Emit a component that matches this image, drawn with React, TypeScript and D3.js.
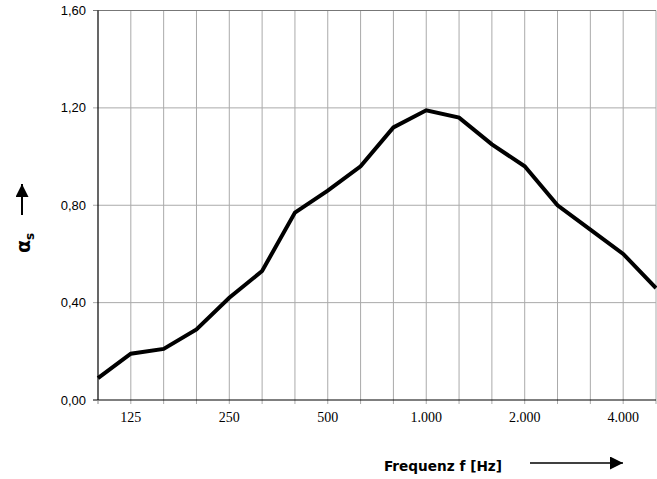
import * as d3 from "d3";
import { useEffect, useRef } from "react";

// Terzband-Mittenfrequenzen [Hz]
const frequencies = [100, 125, 160, 200, 250, 315, 400, 500, 630, 800, 1000, 1250, 1600, 2000, 2500, 3150, 4000, 5000];
// Schallabsorptionsgrad alpha_s
const alphaValues = [0.09, 0.19, 0.21, 0.29, 0.42, 0.53, 0.77, 0.86, 0.96, 1.12, 1.19, 1.16, 1.05, 0.96, 0.8, 0.7, 0.6, 0.46];
const labeledFrequencies = [125, 250, 500, 1000, 2000, 4000];
const yTicks = [0, 0.4, 0.8, 1.2, 1.6];

const W = 657;
const H = 479;

export default function App() {
    const svgRef = useRef<SVGSVGElement | null>(null);

    useEffect(() => {
        const svg = d3.select(svgRef.current);
        svg.selectAll("*").remove();

        const left = 98;
        const right = 656;
        const top = 10.5;
        const bottom = 400;

        const x = d3
            .scalePoint<number>()
            .domain(frequencies)
            .range([left, right]);

        const y = d3.scaleLinear().domain([0, 1.6]).range([bottom, top]);

        const defs = svg.append("defs");
        defs.append("marker")
            .attr("id", "arrow")
            .attr("viewBox", "0 0 10 10")
            .attr("refX", 10)
            .attr("refY", 5)
            .attr("markerWidth", 14)
            .attr("markerHeight", 13)
            .attr("markerUnits", "userSpaceOnUse")
            .attr("orient", "auto")
            .append("path")
            .attr("d", "M0,0 L10,5 L0,10 Z")
            .attr("fill", "#000");

        // Grid vertikal
        svg.append("g")
            .selectAll("line")
            .data(frequencies.slice(1))
            .enter()
            .append("line")
            .attr("x1", (d) => x(d)!)
            .attr("x2", (d) => x(d)!)
            .attr("y1", top)
            .attr("y2", bottom + 4)
            .attr("stroke", "#aaa")
            .attr("stroke-width", 1);

        // Grid horizontal
        svg.append("g")
            .selectAll("line")
            .data(yTicks.slice(1))
            .enter()
            .append("line")
            .attr("x1", left - 5)
            .attr("x2", right)
            .attr("y1", (d) => y(d))
            .attr("y2", (d) => y(d))
            .attr("stroke", (d) => (d === 1.6 ? "#777" : "#aaa"))
            .attr("stroke-width", 1);

        // Achsen
        svg.append("line")
            .attr("x1", left).attr("x2", left)
            .attr("y1", top).attr("y2", bottom)
            .attr("stroke", "#000").attr("stroke-width", 1.2);
        svg.append("line")
            .attr("x1", left - 5).attr("x2", right)
            .attr("y1", bottom).attr("y2", bottom)
            .attr("stroke", "#000").attr("stroke-width", 1.2);
        svg.append("line")
            .attr("x1", left).attr("x2", left)
            .attr("y1", bottom).attr("y2", bottom + 4)
            .attr("stroke", "#888");

        // Y Beschriftung
        svg.append("g")
            .selectAll("text")
            .data(yTicks)
            .enter()
            .append("text")
            .attr("x", 86)
            .attr("y", (d) => y(d) + 4.5)
            .attr("text-anchor", "end")
            .attr("font-family", "'Liberation Sans', Arial, sans-serif")
            .attr("font-size", 13)
            .attr("fill", "#000")
            .text((d) => d.toFixed(2).replace(".", ","));

        // X Beschriftung
        svg.append("g")
            .selectAll("text")
            .data(labeledFrequencies)
            .enter()
            .append("text")
            .attr("x", (d) => x(d)!)
            .attr("y", 422)
            .attr("text-anchor", "middle")
            .attr("font-family", "'Liberation Serif', 'Times New Roman', serif")
            .attr("font-size", 14)
            .attr("fill", "#000")
            .text((d) => d3.format(",")(d).replace(",", "."));

        // Kurve
        const line = d3
            .line<number>()
            .x((_, i) => x(frequencies[i])!)
            .y((d) => y(d));

        svg.append("path")
            .datum(alphaValues)
            .attr("d", line)
            .attr("fill", "none")
            .attr("stroke", "#000")
            .attr("stroke-width", 4)
            .attr("stroke-linejoin", "miter");

        // Y Titel
        const yt = svg.append("text")
            .attr("transform", "translate(30,253) rotate(-90)")
            .attr("font-family", "'DejaVu Sans', sans-serif")
            .attr("font-weight", "bold")
            .attr("font-size", 19)
            .attr("fill", "#000");
        yt.append("tspan").text("α");
        yt.append("tspan").attr("font-size", 12).attr("dy", 4).text("s");

        svg.append("line")
            .attr("x1", 22).attr("x2", 22)
            .attr("y1", 215).attr("y2", 184)
            .attr("stroke", "#000").attr("stroke-width", 2)
            .attr("marker-end", "url(#arrow)");

        // X Titel
        svg.append("text")
            .attr("x", 384)
            .attr("y", 471)
            .attr("font-family", "'DejaVu Sans Condensed', 'DejaVu Sans', sans-serif")
            .attr("font-stretch", "condensed")
            .attr("font-weight", "bold")
            .attr("font-size", 14)
            .attr("textLength", 118)
            .attr("lengthAdjust", "spacingAndGlyphs")
            .attr("fill", "#000")
            .text("Frequenz f [Hz]");

        svg.append("line")
            .attr("x1", 530).attr("x2", 623)
            .attr("y1", 463).attr("y2", 463)
            .attr("stroke", "#000").attr("stroke-width", 1.5)
            .attr("marker-end", "url(#arrow)");
    }, []);

    return (
        <div style={{ position: "absolute", left: 0, top: 0 }}>
            <svg ref={svgRef} width={W} height={H} style={{ display: "block", background: "#fff" }}></svg>
        </div>
    );
}
